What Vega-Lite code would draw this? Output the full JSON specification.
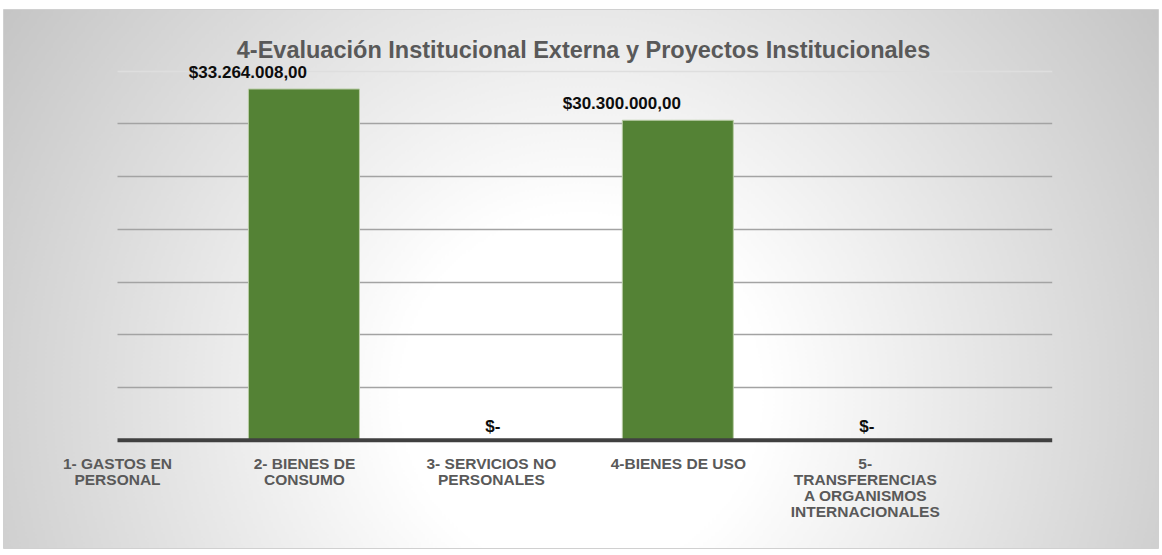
{
  "$schema": "https://vega.github.io/schema/vega-lite/v6.json",
  "autosize": {"type": "none"},
  "width": 1155,
  "height": 539,
  "padding": {"left": 3, "top": 9, "right": 4, "bottom": 7},
  "background": "#ffffff",
  "view": {
    "fill": {
      "gradient": "radial",
      "x1": 0.5, "y1": 0.6, "r1": 0,
      "x2": 0.5, "y2": 0.6, "r2": 0.62,
      "stops": [
        {"offset": 0, "color": "#ffffff"},
        {"offset": 0.25, "color": "#ffffff"},
        {"offset": 1, "color": "#c2c2c2"}
      ]
    },
    "stroke": "#d0d0d0",
    "strokeWidth": 1
  },
  "title": {
    "text": "4-Evaluación Institucional Externa y Proyectos Institucionales",
    "font": "Liberation Sans",
    "fontSize": 23.5,
    "fontWeight": "bold",
    "color": "#595959",
    "anchor": "middle",
    "frame": "group",
    "baseline": "alphabetic",
    "offset": -72,
    "dx": 3
  },
  "data": {
    "values": [
      {"partida": "1- GASTOS EN PERSONAL", "monto": null},
      {"partida": "2- BIENES DE CONSUMO", "monto": 33264008},
      {"partida": "3- SERVICIOS NO PERSONALES", "monto": 0},
      {"partida": "4-BIENES DE USO", "monto": 30300000},
      {"partida": "5- TRANSFERENCIAS A ORGANISMOS INTERNACIONALES", "monto": 0}
    ]
  },
  "encoding": {
    "x": {
      "field": "partida",
      "type": "nominal",
      "sort": null,
      "scale": {
        "type": "point",
        "domain": ["1- GASTOS EN PERSONAL", "2- BIENES DE CONSUMO", "3- SERVICIOS NO PERSONALES", "4-BIENES DE USO", "5- TRANSFERENCIAS A ORGANISMOS INTERNACIONALES"],
        "range": [114, 1048.7],
        "padding": 0.5,
        "align": 0
      },
      "axis": {
        "title": null,
        "orient": "bottom",
        "offset": -108.3,
        "zindex": 1,
        "domainColor": "#404040",
        "domainWidth": 4,
        "ticks": false,
        "grid": false,
        "labelAngle": 0,
        "labelFont": "Liberation Sans",
        "labelFontSize": 15.5,
        "labelFontWeight": "bold",
        "labelColor": "#595959",
        "labelPadding": 17,
        "labelLineHeight": 16,
        "labelAlign": "center",
        "labelBaseline": "top",
        "labelLimit": 0,
        "labelExpr": "datum.value == '1- GASTOS EN PERSONAL' ? ['1- GASTOS  EN', 'PERSONAL'] : datum.value == '2- BIENES DE CONSUMO' ? ['2- BIENES DE', 'CONSUMO'] : datum.value == '3- SERVICIOS NO PERSONALES' ? ['3- SERVICIOS NO', 'PERSONALES'] : datum.value == '5- TRANSFERENCIAS A ORGANISMOS INTERNACIONALES' ? ['5-', 'TRANSFERENCIAS', 'A ORGANISMOS', 'INTERNACIONALES'] : datum.label"
      }
    },
    "y": {
      "field": "monto",
      "type": "quantitative",
      "scale": {"domain": [0, 35000000], "range": [430.7, 61.7], "nice": false, "zero": true},
      "axis": {
        "title": null,
        "labels": false,
        "ticks": false,
        "domain": false,
        "grid": true,
        "values": [5000000, 10000000, 15000000, 20000000, 25000000, 30000000, 35000000],
        "gridWidth": 1.5,
        "gridColor": {"condition": {"test": "datum.value >= 35000000", "value": "#dedede"}, "value": "#a3a3a3"}
      }
    }
  },
  "layer": [
    {
      "mark": {"type": "bar", "width": 111, "color": "#548235", "stroke": "#b9cca6", "strokeWidth": 1}
    },
    {
      "transform": [{"filter": "datum.monto > 0"}],
      "mark": {
        "type": "text",
        "font": "Liberation Sans",
        "fontSize": 17,
        "fontWeight": "bold",
        "color": "#0d0d0d",
        "baseline": "alphabetic",
        "align": "center",
        "dx": -56,
        "dy": -11.5
      },
      "encoding": {
        "text": {"field": "monto", "type": "quantitative", "format": "$,.2f"}
      }
    },
    {
      "transform": [{"filter": "datum.monto === 0"}],
      "mark": {
        "type": "text",
        "font": "Liberation Sans",
        "fontSize": 17,
        "fontWeight": "bold",
        "color": "#0d0d0d",
        "baseline": "alphabetic",
        "align": "center",
        "dx": 2,
        "dy": -7.5
      },
      "encoding": {
        "text": {"value": "$-"}
      }
    }
  ],
  "config": {
    "locale": {
      "number": {"decimal": ",", "thousands": ".", "grouping": [3], "currency": ["$", ""]}
    }
  }
}
